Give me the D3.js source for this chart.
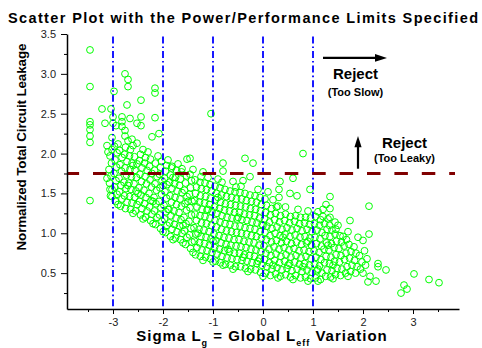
<!DOCTYPE html>
<html><head><meta charset="utf-8">
<script src="https://cdn.jsdelivr.net/npm/d3@7"></script>
<style>body{margin:0;background:#fff}svg{display:block}</style>
</head><body>
<svg id="c" width="482" height="348"></svg>
<script>
const xTicks = [-3,-2,-1,0,1,2,3];
const xMinorTicks = [-3.5,-2.5,-1.5,-0.5,0.5,1.5,2.5,3.5];
const yTicks = [0.5,1.0,1.5,2.0,2.5,3.0,3.5];
const yMinorTicks = [0.25,0.75,1.25,1.75,2.25,2.75,3.25];
const sigmaLimits = [-3,-2,-1,0,1];
const leakageLimit = 1.75;

const outlierPoints = [
[-3.46,3.30],[-3.46,2.84],[-2.76,3.00],[-2.70,2.93],[-2.70,2.84],[-2.98,2.78],[-2.16,2.82],[-2.16,2.76],
[-2.72,2.61],[-2.44,2.67],[-3.22,2.56],[-3.04,2.56],[-3.46,2.40],[-3.46,2.36],[-3.46,2.30],[-3.46,2.22],
[-3.46,2.14],[-3.16,2.38],[-3.00,2.46],[-3.00,2.38],[-2.82,2.46],[-2.82,2.40],[-2.82,2.34],[-2.66,2.44],
[-2.44,2.46],[-2.52,2.38],[-2.44,2.35],[-2.16,2.45],[-2.76,2.29],[-2.76,2.22],[-2.94,2.35],[-2.22,2.21],
[-2.08,2.25],[-3.02,2.20],[-2.70,2.16],[-2.62,2.18],[-2.52,2.13],[-3.12,2.10],[-3.10,2.02],
[-3.46,1.41],[-3.12,1.69],[-3.06,1.55],[-3.02,1.46],[-1.82,1.84],[-1.62,1.81],[-1.52,1.93],[-1.04,2.50],
[-1.46,1.94],[-0.36,1.94],[-0.20,1.88],[-0.80,1.88],[-0.80,1.78],[0.80,2.00],[0.34,1.65],[0.60,1.69],
[0.32,1.55],[0.54,1.50],[0.68,1.47],[0.32,1.45],[0.30,1.34],[0.94,1.55],[-0.26,1.71],[-0.82,1.64],
[1.34,1.46],[1.26,1.36],[1.20,1.30],[1.34,1.31],[2.12,1.34],[1.74,1.16],[1.20,1.21],[1.34,1.20],
[1.44,1.14],[2.12,0.99],[2.00,0.91],[1.60,0.96],[2.30,0.62],[2.30,0.58],[2.46,0.54],[2.26,0.40],
[2.10,0.39],[2.14,0.46],[3.02,0.49],[3.32,0.42],[3.52,0.38],[2.82,0.35],[2.88,0.30],[2.76,0.25]
];

const bandEdgePoints = [
[-2.90,2.12],[-2.60,2.10],[-2.40,2.05],[-2.30,2.02],[-2.10,1.97],[-1.90,1.92],[-1.70,1.87],[-1.40,1.80],
[-1.20,1.77],[-1.10,1.70],[-0.90,1.68],[-0.60,1.65],[-0.40,1.66],[-0.10,1.55],[0.10,1.52],[0.20,1.42],
[0.45,1.33],[0.70,1.30],[0.90,1.28],[1.10,1.27],[1.30,1.18],[1.50,1.10],[1.70,1.02],[1.90,0.95],
[-2.90,1.36],[-2.60,1.25],[-2.40,1.18],[-2.20,1.12],[-2.00,1.02],[-1.80,0.92],[-1.60,0.88],[-1.40,0.76],
[-1.20,0.66],[-1.00,0.64],[-0.80,0.60],[-0.60,0.55],[-0.30,0.52],[0.00,0.46],[0.30,0.44],[0.60,0.42],
[0.90,0.40],[1.10,0.40],[1.40,0.43],[1.70,0.46],[2.00,0.50],
[-2.70,1.60],[-2.50,1.50],[-2.20,1.40],[-1.90,1.30],[-1.60,1.10],[-1.30,1.00],[-1.00,0.90],[-0.70,0.80],
[-0.40,0.70],[-0.10,0.65],[0.20,0.60],[0.50,0.60],[0.80,0.58],[1.10,0.55],[1.40,0.60],[-2.00,1.60],
[-1.50,1.40],[-1.10,1.30],[-0.50,1.20],[0.00,1.10],[0.40,0.95],[0.90,0.90],[1.30,0.85],[-0.90,1.45],
[-1.80,1.70],[-2.60,1.85]
];

const bandPoints = [
[-3.05,1.47],[-3.02,1.55],[-3.07,1.63],[-3.04,1.72],[-3.08,1.80],[-3.03,1.88],[-3.06,1.97],[-3.02,2.05],
[-2.95,1.40],[-2.92,1.49],[-2.97,1.58],[-2.94,1.66],[-2.98,1.75],[-2.93,1.83],[-2.96,1.92],[-2.92,2.01],[-2.97,2.09],
[-2.85,1.34],[-2.82,1.43],[-2.87,1.52],[-2.84,1.60],[-2.88,1.69],[-2.83,1.78],[-2.86,1.86],[-2.82,1.95],[-2.87,2.04],
[-2.75,1.31],[-2.72,1.39],[-2.77,1.47],[-2.74,1.56],[-2.78,1.64],[-2.73,1.73],[-2.76,1.82],[-2.72,1.90],[-2.77,1.99],[-2.75,2.08],
[-2.65,1.30],[-2.62,1.38],[-2.67,1.46],[-2.64,1.55],[-2.68,1.63],[-2.63,1.71],[-2.66,1.80],[-2.62,1.88],[-2.67,1.97],[-2.65,2.05],
[-2.55,1.28],[-2.52,1.36],[-2.57,1.45],[-2.54,1.53],[-2.58,1.62],[-2.53,1.70],[-2.56,1.79],[-2.52,1.87],[-2.57,1.96],
[-2.45,1.23],[-2.42,1.31],[-2.47,1.40],[-2.44,1.48],[-2.48,1.57],[-2.43,1.65],[-2.46,1.74],[-2.42,1.82],[-2.47,1.91],[-2.45,1.99],
[-2.35,1.20],[-2.32,1.28],[-2.37,1.37],[-2.34,1.45],[-2.38,1.54],[-2.33,1.62],[-2.36,1.71],[-2.32,1.79],[-2.37,1.88],[-2.35,1.95],
[-2.25,1.16],[-2.22,1.24],[-2.27,1.33],[-2.24,1.41],[-2.28,1.50],[-2.23,1.58],[-2.26,1.67],[-2.22,1.75],[-2.27,1.84],[-2.25,1.93],
[-2.15,1.11],[-2.12,1.20],[-2.17,1.28],[-2.14,1.37],[-2.18,1.45],[-2.13,1.54],[-2.16,1.62],[-2.12,1.71],[-2.17,1.79],[-2.15,1.88],
[-2.05,1.06],[-2.02,1.15],[-2.07,1.23],[-2.04,1.32],[-2.08,1.40],[-2.03,1.49],[-2.06,1.57],[-2.02,1.66],[-2.07,1.74],[-2.05,1.83],[-2.03,1.90],
[-1.95,1.01],[-1.92,1.10],[-1.97,1.18],[-1.94,1.27],[-1.98,1.35],[-1.93,1.44],[-1.96,1.52],[-1.92,1.61],[-1.97,1.69],[-1.95,1.78],[-1.93,1.85],
[-1.85,0.96],[-1.82,1.05],[-1.87,1.13],[-1.84,1.22],[-1.88,1.30],[-1.83,1.39],[-1.86,1.47],[-1.82,1.56],[-1.87,1.64],[-1.85,1.73],[-1.83,1.82],
[-1.75,0.94],[-1.72,1.02],[-1.77,1.11],[-1.74,1.19],[-1.78,1.28],[-1.73,1.36],[-1.76,1.45],[-1.72,1.53],[-1.77,1.62],[-1.75,1.70],[-1.73,1.79],
[-1.65,0.92],[-1.62,1.00],[-1.67,1.09],[-1.64,1.17],[-1.68,1.26],[-1.63,1.34],[-1.66,1.43],[-1.62,1.51],[-1.67,1.60],[-1.65,1.68],[-1.63,1.77],
[-1.55,0.86],[-1.52,0.95],[-1.57,1.03],[-1.54,1.12],[-1.58,1.20],[-1.53,1.29],[-1.56,1.37],[-1.52,1.46],[-1.57,1.54],[-1.55,1.63],[-1.53,1.72],
[-1.45,0.81],[-1.42,0.89],[-1.47,0.98],[-1.44,1.06],[-1.48,1.15],[-1.43,1.23],[-1.46,1.32],[-1.42,1.40],[-1.47,1.49],[-1.45,1.57],[-1.43,1.66],[-1.46,1.74],
[-1.35,0.73],[-1.32,0.82],[-1.37,0.90],[-1.34,0.99],[-1.38,1.07],[-1.33,1.16],[-1.36,1.24],[-1.32,1.33],[-1.37,1.41],[-1.35,1.50],[-1.33,1.58],[-1.36,1.67],
[-1.25,0.71],[-1.22,0.79],[-1.27,0.88],[-1.24,0.96],[-1.28,1.05],[-1.23,1.13],[-1.26,1.22],[-1.22,1.30],[-1.27,1.39],[-1.25,1.47],[-1.23,1.56],[-1.26,1.64],[-1.24,1.71],
[-1.15,0.70],[-1.12,0.78],[-1.17,0.87],[-1.14,0.95],[-1.18,1.04],[-1.13,1.12],[-1.16,1.21],[-1.12,1.29],[-1.17,1.38],[-1.15,1.46],[-1.13,1.55],[-1.16,1.63],
[-1.05,0.68],[-1.02,0.76],[-1.07,0.85],[-1.04,0.93],[-1.08,1.02],[-1.03,1.10],[-1.06,1.19],[-1.02,1.27],[-1.07,1.36],[-1.05,1.44],[-1.03,1.53],[-1.06,1.61],
[-0.95,0.65],[-0.92,0.74],[-0.97,0.82],[-0.94,0.91],[-0.98,0.99],[-0.93,1.08],[-0.96,1.16],[-0.92,1.25],[-0.97,1.33],[-0.95,1.42],[-0.93,1.50],[-0.96,1.59],
[-0.85,0.63],[-0.82,0.71],[-0.87,0.80],[-0.84,0.88],[-0.88,0.97],[-0.83,1.05],[-0.86,1.14],[-0.82,1.22],[-0.87,1.31],[-0.85,1.39],[-0.83,1.48],[-0.86,1.57],
[-0.75,0.61],[-0.72,0.69],[-0.77,0.78],[-0.74,0.86],[-0.78,0.95],[-0.73,1.03],[-0.76,1.12],[-0.72,1.20],[-0.77,1.29],[-0.75,1.37],[-0.73,1.46],[-0.76,1.55],
[-0.65,0.60],[-0.62,0.68],[-0.67,0.77],[-0.64,0.85],[-0.68,0.94],[-0.63,1.02],[-0.66,1.11],[-0.62,1.19],[-0.67,1.28],[-0.65,1.36],[-0.63,1.45],[-0.66,1.53],
[-0.55,0.58],[-0.52,0.67],[-0.57,0.75],[-0.54,0.84],[-0.58,0.92],[-0.53,1.01],[-0.56,1.09],[-0.52,1.18],[-0.57,1.26],[-0.55,1.35],[-0.53,1.43],[-0.56,1.52],[-0.54,1.58],
[-0.45,0.58],[-0.42,0.66],[-0.47,0.75],[-0.44,0.83],[-0.48,0.92],[-0.43,1.00],[-0.46,1.09],[-0.42,1.17],[-0.47,1.26],[-0.45,1.34],[-0.43,1.43],[-0.46,1.51],[-0.44,1.59],
[-0.35,0.56],[-0.32,0.65],[-0.37,0.73],[-0.34,0.82],[-0.38,0.90],[-0.33,0.99],[-0.36,1.07],[-0.32,1.16],[-0.37,1.24],[-0.35,1.33],[-0.33,1.41],[-0.36,1.50],
[-0.25,0.55],[-0.22,0.63],[-0.27,0.72],[-0.24,0.80],[-0.28,0.89],[-0.23,0.97],[-0.26,1.06],[-0.22,1.14],[-0.27,1.23],[-0.25,1.31],[-0.23,1.40],[-0.26,1.48],
[-0.15,0.54],[-0.12,0.62],[-0.17,0.71],[-0.14,0.79],[-0.18,0.88],[-0.13,0.96],[-0.16,1.05],[-0.12,1.13],[-0.17,1.22],[-0.15,1.30],[-0.13,1.39],[-0.16,1.47],
[-0.05,0.51],[-0.02,0.60],[-0.07,0.68],[-0.04,0.77],[-0.08,0.85],[-0.03,0.94],[-0.06,1.02],[-0.02,1.11],[-0.07,1.19],[-0.05,1.28],[-0.03,1.36],[-0.06,1.45],
[0.05,0.50],[0.08,0.58],[0.03,0.67],[0.06,0.75],[0.02,0.84],[0.07,0.92],[0.04,1.01],[0.08,1.09],[0.03,1.18],[0.05,1.26],[0.07,1.35],[0.04,1.43],
[0.15,0.47],[0.18,0.55],[0.13,0.63],[0.16,0.72],[0.12,0.80],[0.17,0.89],[0.14,0.97],[0.18,1.06],[0.13,1.14],[0.15,1.23],[0.17,1.31],
[0.25,0.49],[0.28,0.57],[0.23,0.66],[0.26,0.74],[0.22,0.83],[0.27,0.91],[0.24,1.00],[0.28,1.08],[0.23,1.17],[0.25,1.25],[0.27,1.33],
[0.35,0.46],[0.38,0.54],[0.33,0.63],[0.36,0.71],[0.32,0.80],[0.37,0.88],[0.34,0.97],[0.38,1.05],[0.33,1.14],[0.35,1.22],
[0.45,0.48],[0.48,0.56],[0.43,0.65],[0.46,0.73],[0.42,0.82],[0.47,0.90],[0.44,0.99],[0.48,1.07],[0.43,1.16],[0.45,1.24],
[0.55,0.45],[0.58,0.53],[0.53,0.62],[0.56,0.70],[0.52,0.79],[0.57,0.87],[0.54,0.96],[0.58,1.04],[0.53,1.13],[0.55,1.21],
[0.65,0.47],[0.68,0.55],[0.63,0.64],[0.66,0.72],[0.62,0.81],[0.67,0.89],[0.64,0.98],[0.68,1.06],[0.63,1.15],[0.65,1.22],
[0.75,0.44],[0.78,0.52],[0.73,0.61],[0.76,0.69],[0.72,0.78],[0.77,0.86],[0.74,0.95],[0.78,1.03],[0.73,1.12],[0.75,1.20],
[0.85,0.45],[0.88,0.54],[0.83,0.62],[0.86,0.71],[0.82,0.79],[0.87,0.88],[0.84,0.96],[0.88,1.05],[0.83,1.13],[0.85,1.20],
[0.95,0.43],[0.98,0.51],[0.93,0.60],[0.96,0.68],[0.92,0.77],[0.97,0.85],[0.94,0.94],[0.98,1.02],[0.93,1.11],[0.95,1.19],
[1.05,0.44],[1.08,0.53],[1.03,0.61],[1.06,0.70],[1.02,0.78],[1.07,0.87],[1.04,0.95],[1.08,1.04],[1.03,1.12],[1.05,1.21],
[1.15,0.42],[1.18,0.50],[1.13,0.59],[1.16,0.67],[1.12,0.76],[1.17,0.84],[1.14,0.93],[1.18,1.01],[1.13,1.10],[1.15,1.17],
[1.25,0.46],[1.28,0.54],[1.23,0.63],[1.26,0.71],[1.22,0.80],[1.27,0.88],[1.24,0.97],[1.28,1.05],[1.23,1.12],
[1.35,0.45],[1.38,0.53],[1.33,0.62],[1.36,0.70],[1.32,0.79],[1.37,0.87],[1.34,0.96],[1.38,1.04],[1.33,1.10],
[1.45,0.48],[1.48,0.56],[1.43,0.65],[1.46,0.73],[1.42,0.82],[1.47,0.90],[1.44,0.99],[1.46,1.05],
[1.55,0.47],[1.58,0.55],[1.53,0.64],[1.56,0.72],[1.52,0.81],[1.57,0.89],[1.54,0.97],
[1.65,0.50],[1.68,0.58],[1.63,0.67],[1.66,0.75],[1.62,0.84],[1.67,0.92],
[1.75,0.52],[1.78,0.60],[1.73,0.69],[1.76,0.77],[1.72,0.86],
[1.85,0.50],[1.88,0.58],[1.83,0.66],[1.86,0.75],[1.82,0.83],
[1.95,0.55],[1.98,0.64],[1.93,0.72],
[2.05,0.60],[2.08,0.68],[2.03,0.78]
];

const FONT = "'Liberation Sans', Arial, Helvetica, sans-serif";
const svg = d3.select("#c");
const x = d3.scaleLinear().domain([-3.92, 3.92]).range([67, 459]);
const y = d3.scaleLinear().domain([0.05, 3.5]).range([309, 34]);

// points
svg.append("g").selectAll("circle")
  .data(bandPoints.concat(bandEdgePoints, outlierPoints))
  .join("circle")
  .attr("cx", d => x(d[0])).attr("cy", d => y(d[1]))
  .attr("r", 3.4).attr("fill", "none")
  .attr("stroke", "#00ff00").attr("stroke-width", 1);

// vertical sigma limits
svg.append("g").selectAll("line").data(sigmaLimits).join("line")
  .attr("x1", d => x(d)).attr("x2", d => x(d))
  .attr("y1", y(3.47)).attr("y2", y(0.05))
  .attr("stroke", "#0000ff").attr("stroke-width", 1.8)
  .attr("stroke-dasharray", "7,3,1.6,3");

// leakage limit
svg.append("line")
  .attr("x1", x(-3.92)).attr("x2", x(3.84))
  .attr("y1", y(leakageLimit)).attr("y2", y(leakageLimit))
  .attr("stroke", "#800000").attr("stroke-width", 3)
  .attr("stroke-dasharray", "13.5,13.9").attr("stroke-dashoffset", 1.4);

// axes
svg.append("g").attr("transform", "translate(0,309)")
  .call(d3.axisBottom(x).tickValues(xTicks).tickSize(5).tickSizeOuter(0).tickPadding(4).tickFormat(d => String(d)));
const xMinor = svg.append("g").attr("transform", "translate(0,309)")
  .call(d3.axisBottom(x).tickValues(xMinorTicks).tickSize(3).tickFormat(""));
xMinor.select(".domain").remove();
svg.append("g").attr("transform", "translate(67,0)")
  .call(d3.axisLeft(y).tickValues(yTicks).tickSize(6).tickSizeOuter(0).tickPadding(5).tickFormat(d3.format(".1f")));
const yMinor = svg.append("g").attr("transform", "translate(67,0)")
  .call(d3.axisLeft(y).tickValues(yMinorTicks).tickSize(3).tickFormat(""));
yMinor.select(".domain").remove();
svg.selectAll(".domain").attr("stroke", "#000").attr("stroke-width", 1.5);
svg.selectAll(".tick line").attr("stroke", "#000").attr("stroke-width", 1);
svg.selectAll(".tick text").attr("font-family", FONT).attr("font-size", 11).attr("fill", "#222");

// title
svg.append("text").attr("x", 243).attr("y", 23).attr("text-anchor", "middle")
  .attr("font-family", FONT).attr("font-weight", "bold").attr("font-size", 14.5)
  .attr("textLength", 470).attr("lengthAdjust", "spacing")
  .text("Scatter Plot with the Power/Performance Limits Specified");

// x title
const xt = svg.append("text").attr("x", 262).attr("y", 341).attr("text-anchor", "middle")
  .attr("font-family", FONT).attr("font-weight", "bold").attr("font-size", 15)
  .attr("letter-spacing", 1);
xt.append("tspan").text("Sigma L");
xt.append("tspan").attr("font-size", 9).attr("dy", 5).text("g");
xt.append("tspan").attr("dy", -5).text(" = Global L");
xt.append("tspan").attr("font-size", 9).attr("dy", 5).text("eff");
xt.append("tspan").attr("dy", -5).text(" Variation");

// y title
svg.append("text").attr("transform", "translate(26,147) rotate(-90)")
  .attr("text-anchor", "middle")
  .attr("font-family", FONT).attr("font-weight", "bold").attr("font-size", 13.5)
  .attr("textLength", 207).attr("lengthAdjust", "spacing")
  .text("Normalized Total Circuit Leakage");

// annotations
const ann = svg.append("g").attr("font-family", FONT).attr("font-weight", "bold").attr("fill", "#000");
ann.append("line").attr("x1", x(1.2)).attr("x2", x(2.3)).attr("y1", y(3.2)).attr("y2", y(3.2))
  .attr("stroke", "#000").attr("stroke-width", 2.2);
ann.append("path").attr("d", `M${x(2.24)},${y(3.2)-3.8}L${x(2.48)},${y(3.2)}L${x(2.24)},${y(3.2)+3.8}Z`);
ann.append("text").attr("x", x(1.85)).attr("y", y(2.93)).attr("text-anchor", "middle")
  .attr("font-size", 15).text("Reject");
ann.append("text").attr("x", x(1.85)).attr("y", y(2.72)).attr("text-anchor", "middle")
  .attr("font-size", 11).text("(Too Slow)");
ann.append("line").attr("x1", x(1.9)).attr("x2", x(1.9)).attr("y1", y(1.81)).attr("y2", y(2.12))
  .attr("stroke", "#000").attr("stroke-width", 2.2);
ann.append("path").attr("d", `M${x(1.9)-3.6},${y(2.08)}L${x(1.9)},${y(2.22)}L${x(1.9)+3.6},${y(2.08)}Z`);
ann.append("text").attr("x", x(2.83)).attr("y", y(2.07)).attr("text-anchor", "middle")
  .attr("font-size", 15).text("Reject");
ann.append("text").attr("x", x(2.83)).attr("y", y(1.89)).attr("text-anchor", "middle")
  .attr("font-size", 11).text("(Too Leaky)");
</script>
</body></html>
